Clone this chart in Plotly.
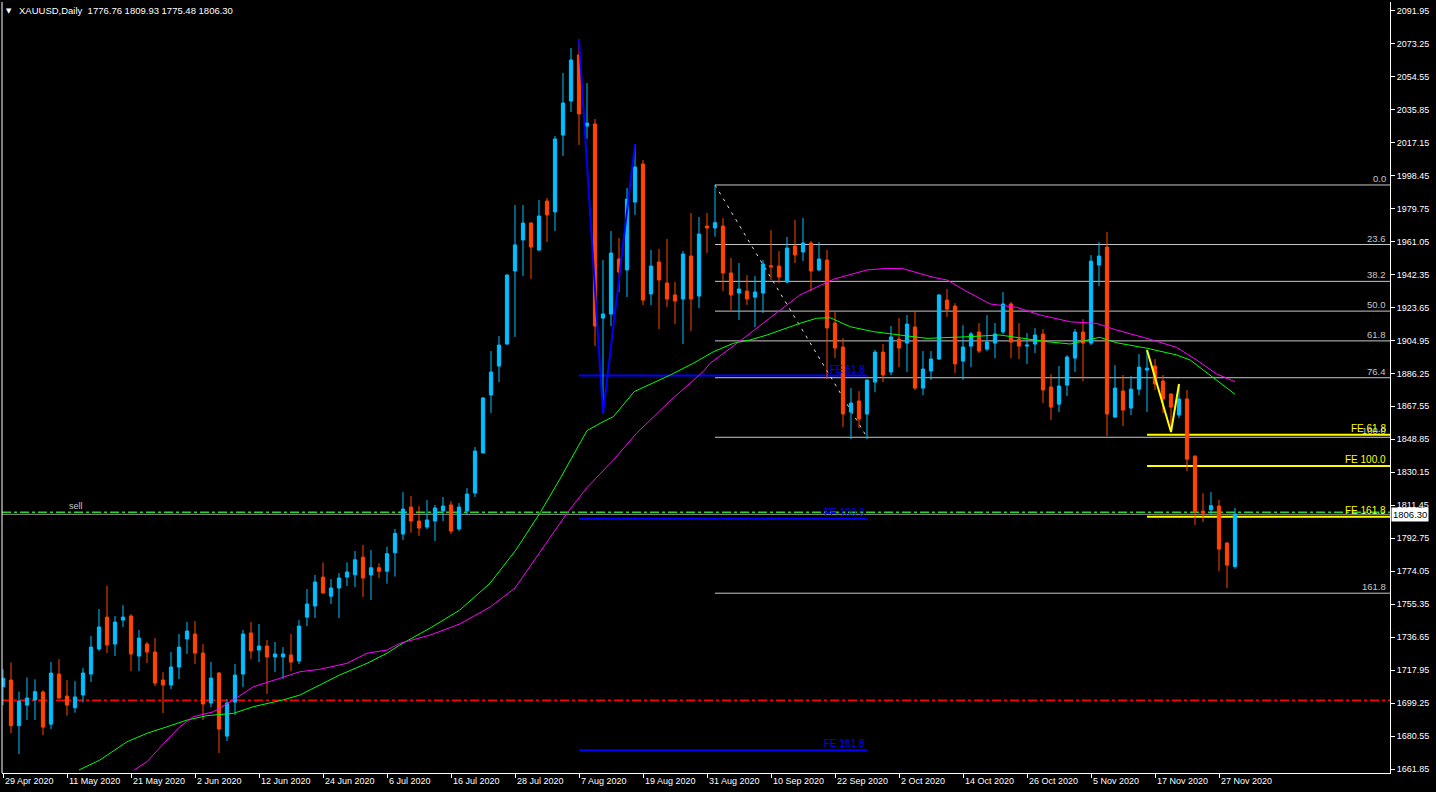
import plotly.graph_objects as go

# ---------------- data ----------------
title_text = "XAUUSD,Daily  1776.76 1809.93 1775.48 1806.30"

opens = [1708.5, 1712.3, 1686.4, 1698.1, 1701.0, 1705.5, 1687.3, 1715.7, 1703.2, 1696.6,
         1703.8, 1715.7, 1729.9, 1748.0, 1732.7, 1746.3, 1748.6, 1725.9, 1732.7, 1728.2,
         1712.3, 1709.5, 1719.7, 1735.6, 1738.4, 1727.6, 1699.3, 1716.3, 1680.5, 1699.8,
         1715.7, 1739.0, 1729.3, 1731.6, 1725.4, 1725.4, 1726.5, 1723.1, 1748.0, 1754.3,
         1770.7, 1759.9, 1764.5, 1770.7, 1772.0, 1782.0, 1771.9, 1776.0, 1774.0, 1784.5,
         1795.1, 1810.4, 1802.5, 1799.1, 1802.5, 1808.2, 1811.6, 1798.0, 1808.2, 1818.4,
         1841.1, 1874.0, 1890.4, 1902.9, 1944.3, 1961.9, 1971.5, 1956.2, 1984.0, 1977.8,
         2021.4, 2040.7, 2066.8, 2026.5, 2027.7, 1917.6, 1919.9, 1951.1, 1944.9, 1983.4,
         2005.0, 1931.3, 1949.4, 1937.5, 1930.7, 1928.4, 1952.8, 1930.1, 1969.8, 1968.7,
         1969.8, 1943.2, 1931.8, 1932.9, 1929.5, 1931.8, 1947.3, 1947.1, 1938.0, 1958.5,
         1955.1, 1960.2, 1944.9, 1950.5, 1914.8, 1901.2, 1864.3, 1870.6, 1863.2, 1881.3,
         1898.3, 1887.0, 1905.7, 1903.4, 1912.5, 1877.9, 1887.6, 1894.4, 1927.8, 1924.4,
         1893.2, 1901.7, 1909.7, 1900.0, 1903.4, 1909.7, 1925.6, 1905.7, 1901.7, 1902.9,
         1908.5, 1878.5, 1868.8, 1879.6, 1894.9, 1909.7, 1903.4, 1947.7, 1957.9, 1861.5,
         1876.2, 1866.6, 1877.3, 1888.1, 1890.4, 1881.9, 1874.5, 1862.6, 1871.7, 1839.3,
         1808.1, 1808.9, 1811.0, 1790.0, 1776.76]
highs = [1718.4, 1722.3, 1705.7, 1713.8, 1712.7, 1706.5, 1722.5, 1724.2, 1712.3, 1711.7,
         1719.1, 1737.3, 1752.6, 1765.8, 1748.6, 1754.8, 1749.7, 1740.7, 1733.9, 1736.1,
         1716.8, 1728.2, 1738.4, 1745.2, 1745.8, 1732.7, 1722.5, 1716.8, 1701.5, 1721.4,
         1740.7, 1745.2, 1744.1, 1735.0, 1733.9, 1731.0, 1738.4, 1746.3, 1763.9, 1771.9,
         1779.0, 1769.6, 1773.0, 1779.0, 1785.5, 1789.0, 1786.0, 1778.5, 1787.9, 1798.0,
         1818.9, 1816.7, 1811.0, 1814.4, 1811.6, 1816.1, 1813.8, 1812.7, 1821.2, 1844.5,
         1872.8, 1898.9, 1907.4, 1942.5, 1981.7, 1981.7, 1972.1, 1984.6, 1985.7, 2020.9,
         2056.6, 2070.8, 2075.7, 2050.9, 2030.5, 1950.5, 1967.0, 1963.0, 1991.4, 2016.3,
         2007.3, 1956.2, 1956.8, 1962.5, 1938.1, 1955.6, 1977.2, 1974.9, 1977.2, 1993.1,
         1974.3, 1951.7, 1948.8, 1942.0, 1941.4, 1950.5, 1967.5, 1955.6, 1963.6, 1973.2,
         1974.3, 1961.3, 1960.7, 1956.2, 1921.0, 1906.3, 1877.9, 1876.2, 1882.5, 1899.5,
         1902.9, 1913.1, 1917.6, 1919.3, 1921.6, 1898.9, 1898.9, 1931.2, 1934.1, 1926.1,
         1913.6, 1909.7, 1914.8, 1919.3, 1914.8, 1932.4, 1926.7, 1914.8, 1909.1, 1911.9,
         1911.4, 1885.8, 1890.4, 1896.6, 1911.4, 1917.0, 1953.3, 1960.7, 1966.4, 1890.9,
         1885.3, 1884.7, 1897.2, 1899.5, 1894.4, 1885.3, 1875.1, 1880.2, 1876.8, 1839.8,
         1818.3, 1818.9, 1814.4, 1790.6, 1809.93]
lows = [1698.1, 1682.1, 1670.3, 1689.6, 1689.6, 1681.1, 1684.5, 1701.7, 1692.1, 1693.8,
        1699.6, 1711.2, 1728.8, 1727.6, 1725.9, 1742.4, 1717.4, 1717.4, 1721.9, 1708.9,
        1693.6, 1707.2, 1712.9, 1727.1, 1721.4, 1689.6, 1697.0, 1670.9, 1677.7, 1692.5,
        1708.3, 1724.2, 1722.5, 1704.4, 1716.8, 1712.9, 1717.4, 1721.4, 1742.9, 1747.5,
        1761.1, 1755.4, 1747.5, 1765.6, 1765.1, 1759.4, 1757.7, 1770.0, 1767.0, 1771.0,
        1791.7, 1795.9, 1794.0, 1797.9, 1791.2, 1802.5, 1795.1, 1796.8, 1805.9, 1816.1,
        1841.1, 1863.8, 1881.3, 1902.5, 1906.9, 1941.5, 1939.8, 1955.6, 1960.8, 1967.0,
        2009.5, 2034.5, 2015.8, 2019.2, 1901.8, 1863.2, 1913.1, 1932.4, 1929.6, 1976.1,
        1925.0, 1925.0, 1911.4, 1923.9, 1914.2, 1902.9, 1910.3, 1923.3, 1954.5, 1963.8,
        1932.9, 1922.2, 1916.5, 1925.0, 1912.5, 1920.5, 1939.2, 1937.5, 1937.5, 1948.8,
        1950.0, 1932.9, 1944.3, 1883.0, 1894.9, 1855.8, 1849.0, 1855.2, 1849.0, 1875.6,
        1881.3, 1885.3, 1889.8, 1887.0, 1876.8, 1874.0, 1882.5, 1893.8, 1918.2, 1886.4,
        1882.5, 1889.8, 1897.8, 1898.9, 1894.9, 1908.5, 1894.9, 1894.4, 1891.5, 1897.8,
        1869.4, 1859.8, 1864.3, 1873.4, 1887.0, 1881.9, 1902.3, 1935.8, 1850.7, 1860.9,
        1856.4, 1862.6, 1873.9, 1864.3, 1876.8, 1863.7, 1853.0, 1860.9, 1830.8, 1800.2,
        1801.9, 1805.9, 1774.1, 1764.5, 1775.48]
closes = [1713.3, 1686.4, 1700.4, 1702.1, 1705.7, 1685.6, 1716.3, 1702.1, 1698.1, 1702.7,
          1716.3, 1731.0, 1742.4, 1732.2, 1745.2, 1748.0, 1727.1, 1736.1, 1728.2, 1710.6,
          1709.5, 1719.7, 1731.0, 1740.1, 1727.6, 1698.7, 1713.4, 1684.5, 1699.3, 1715.1,
          1738.4, 1728.8, 1731.6, 1725.4, 1727.1, 1727.1, 1722.5, 1742.9, 1755.4, 1767.9,
          1761.7, 1764.5, 1770.2, 1773.6, 1780.5, 1770.2, 1776.0, 1774.0, 1784.0, 1795.5,
          1809.3, 1802.5, 1798.5, 1803.1, 1809.9, 1811.0, 1796.8, 1810.4, 1817.8, 1842.2,
          1872.3, 1887.0, 1902.3, 1942.0, 1959.1, 1971.5, 1957.9, 1975.5, 1976.1, 2019.2,
          2039.6, 2064.0, 2033.4, 2028.2, 1913.1, 1919.9, 1954.5, 1943.7, 1985.1, 2003.3,
          1927.8, 1947.1, 1939.2, 1928.4, 1927.3, 1953.9, 1928.4, 1965.3, 1968.7, 1971.7,
          1943.2, 1930.7, 1934.1, 1928.4, 1932.4, 1948.3, 1946.7, 1940.9, 1957.3, 1953.4,
          1960.2, 1944.3, 1951.1, 1912.0, 1900.6, 1863.2, 1869.4, 1860.3, 1882.5, 1898.3,
          1885.3, 1906.9, 1900.6, 1914.2, 1877.9, 1888.7, 1894.4, 1930.7, 1922.7, 1891.6,
          1901.2, 1908.6, 1898.9, 1904.0, 1908.6, 1925.6, 1904.0, 1901.7, 1902.3, 1908.0,
          1876.8, 1867.1, 1879.1, 1895.5, 1909.7, 1903.4, 1949.9, 1952.8, 1863.2, 1877.9,
          1865.4, 1877.3, 1889.8, 1889.2, 1880.2, 1871.7, 1867.1, 1871.7, 1837.6, 1807.6,
          1807.0, 1811.2, 1786.6, 1777.5, 1806.30]

# date labels of the time axis, one every 8 bars
date_labels = ["29 Apr 2020", "11 May 2020", "21 May 2020", "2 Jun 2020", "12 Jun 2020",
               "24 Jun 2020", "6 Jul 2020", "16 Jul 2020", "28 Jul 2020", "7 Aug 2020",
               "19 Aug 2020", "31 Aug 2020", "10 Sep 2020", "22 Sep 2020", "2 Oct 2020",
               "14 Oct 2020", "26 Oct 2020", "5 Nov 2020", "17 Nov 2020", "27 Nov 2020"]
date_label_bars = [0, 8, 16, 24, 32, 40, 48, 56, 64, 72, 80, 88, 96, 104, 112, 120, 128, 136, 144, 152]

price_ticks = [2091.95, 2073.25, 2054.55, 2035.85, 2017.15, 1998.45, 1979.75, 1961.05,
               1942.35, 1923.65, 1904.95, 1886.25, 1867.55, 1848.85, 1830.15, 1811.45,
               1792.75, 1774.05, 1755.35, 1736.65, 1717.95, 1699.25, 1680.55, 1661.85]

# moving averages (read at sample bars)
ma_fast_bar = [9.5, 12.1, 15.5, 18.0, 20.5, 23.0, 25.5, 28.8, 31.3, 35.0, 37.1, 39.6, 42.1,
               45.5, 48.0, 49.6, 53.4, 57.1, 60.9, 64.1, 67.1, 69.6, 73.0, 75.0, 76.3, 78.9,
               82.1, 83.4, 86.3, 88.8, 91.3, 93.4, 95.5, 99.6, 101.7, 103.4, 105.9, 108.8,
               112.1, 115.5, 120.5, 124.6, 130.5, 133.4, 137.1, 139.2, 143.0, 146.7, 148.4,
               150.5, 152.5, 154.0]
ma_fast_val = [1661.3, 1666.9, 1677.3, 1682.1, 1685.8, 1689.6, 1692.1, 1693.4, 1697.2, 1701.0,
               1703.8, 1709.5, 1715.2, 1721.8, 1727.5, 1732.2, 1741.8, 1752.0, 1767.3, 1786.0,
               1806.9, 1826.2, 1853.8, 1858.8, 1861.7, 1875.9, 1882.5, 1885.3, 1892.0, 1898.5,
               1903.3, 1905.2, 1908.0, 1914.6, 1917.5, 1917.8, 1912.7, 1909.9, 1908.0, 1906.1,
               1907.0, 1908.0, 1904.2, 1902.9, 1906.7, 1903.6, 1900.5, 1896.7, 1893.8, 1886.3,
               1879.6, 1874.4]
ma_slow_bar = [16.4, 18.0, 20.5, 22.1, 23.8, 26.3, 28.8, 31.3, 34.6, 37.1, 39.6, 43.0, 45.5,
               48.0, 49.6, 53.4, 57.1, 60.9, 64.0, 67.3, 70.5, 73.0, 76.3, 79.2, 83.4, 87.5,
               88.4, 92.3, 95.5, 99.6, 103.8, 108.0, 110.5, 112.5, 116.3, 118.0, 120.5, 123.4,
               126.7, 129.6, 133.4, 136.7, 139.2, 143.0, 146.7, 149.2, 151.7, 154.0]
ma_slow_val = [1661.3, 1666.0, 1678.3, 1685.8, 1691.5, 1694.3, 1701.0, 1708.5, 1713.3, 1717.0,
               1718.4, 1721.8, 1727.5, 1729.3, 1733.1, 1737.8, 1744.1, 1753.7, 1764.5, 1786.0,
               1806.9, 1821.5, 1837.1, 1852.3, 1870.7, 1887.2, 1892.0, 1905.2, 1916.5, 1930.7,
               1939.6, 1944.9, 1945.8, 1945.6, 1940.7, 1939.2, 1932.6, 1925.6, 1923.7, 1919.4,
               1915.5, 1914.6, 1910.8, 1906.1, 1901.0, 1893.8, 1885.9, 1881.5]

# drawing objects
fib_ratios = [0.0, 23.6, 38.2, 50.0, 61.8, 76.4, 100.0, 161.8]
fib_bars = [89, 108]
fib_prices = [1993.1, 1850.0]
fe_ratios = [61.8, 100.0, 161.8]
fe_blue_bars = [72, 75, 79]
fe_blue_end_bar = 108
fe_yellow_bars = [143, 146, 147]
sell_level = 1807.5
red_level = 1700.8
bid_price = 1806.30
sell_text = "sell"

# ---------------- figure ----------------
n = len(closes)
bars = list(range(n))
X_MIN, X_MAX = -0.125, 173.375
Y_MIN, Y_MAX = 1659.58, 2096.88
BULL, BEAR = "#00BFFF", "#FF4500"
FONT = "Liberation Sans"

fig = go.Figure()

fig.add_trace(go.Scatter(x=ma_fast_bar, y=ma_fast_val, mode="lines",
                         line=dict(color="#00FF00", width=1), hoverinfo="skip"))
fig.add_trace(go.Scatter(x=ma_slow_bar, y=ma_slow_val, mode="lines",
                         line=dict(color="#FF00FF", width=1), hoverinfo="skip"))

fig.add_trace(go.Candlestick(
    x=bars, open=opens, high=highs, low=lows, close=closes,
    increasing=dict(line=dict(color=BULL, width=1), fillcolor=BULL),
    decreasing=dict(line=dict(color=BEAR, width=1), fillcolor=BEAR),
    whiskerwidth=0, hoverinfo="skip"))

shapes = []
annotations = []

# horizontal price lines
shapes.append(dict(type="line", xref="x", yref="y", x0=X_MIN, x1=X_MAX, y0=red_level, y1=red_level,
                   line=dict(color="#FF0000", width=1.5, dash="9px,3px,3px,3px"), layer="below"))
shapes.append(dict(type="line", xref="x", yref="y", x0=X_MIN, x1=X_MAX, y0=bid_price, y1=bid_price,
                   line=dict(color="#9a9a9a", width=1), layer="below"))
shapes.append(dict(type="line", xref="x", yref="y", x0=X_MIN, x1=X_MAX, y0=sell_level, y1=sell_level,
                   line=dict(color="#32CD32", width=1.5, dash="9px,3px,3px,3px"), layer="below"))
annotations.append(dict(x=8.0, y=sell_level, xref="x", yref="y", text=sell_text, showarrow=False,
                        xanchor="left", yanchor="bottom", yshift=-1,
                        font=dict(family=FONT, size=9, color="#c8c8c8")))

# fibonacci retracement
fib_hi, fib_lo = fib_prices
for r in fib_ratios:
    lvl = fib_hi - (fib_hi - fib_lo) * r / 100.0
    shapes.append(dict(type="line", xref="x", yref="y", x0=fib_bars[0], x1=X_MAX, y0=lvl, y1=lvl,
                       line=dict(color="#c8c8c8", width=1), layer="below"))
    annotations.append(dict(x=X_MAX - 0.25, y=lvl, xref="x", yref="y", text=f"{r:.1f}", showarrow=False,
                            xanchor="right", yanchor="bottom", yshift=-1,
                            font=dict(family=FONT, size=9.5, color="#c8c8c8")))
shapes.append(dict(type="line", xref="x", yref="y", x0=fib_bars[0], x1=fib_bars[1], y0=fib_hi, y1=fib_lo,
                   line=dict(color="#dddddd", width=1, dash="3px,5px"), layer="below"))

# blue fibonacci expansion
bA, bB, bC = fe_blue_bars
blue_pts_y = [highs[bA], lows[bB], highs[bC]]
blue_range = blue_pts_y[0] - blue_pts_y[1]
for r in fe_ratios:
    lvl = blue_pts_y[2] - blue_range * r / 100.0
    shapes.append(dict(type="line", xref="x", yref="y", x0=bA, x1=fe_blue_end_bar, y0=lvl, y1=lvl,
                       line=dict(color="#0000FF", width=2), layer="below"))
    annotations.append(dict(x=fe_blue_end_bar, y=lvl, xref="x", yref="y", text=f"FE {r:.1f}", showarrow=False,
                            xanchor="right", yanchor="bottom", yshift=-1,
                            font=dict(family=FONT, size=10, color="#0000FF")))

# yellow fibonacci expansion
yA, yB, yC = fe_yellow_bars
yel_pts_y = [highs[yA], lows[yB], highs[yC]]
yel_range = yel_pts_y[0] - yel_pts_y[1]
for r in fe_ratios:
    lvl = yel_pts_y[2] - yel_range * r / 100.0
    shapes.append(dict(type="line", xref="x", yref="y", x0=yA, x1=X_MAX, y0=lvl, y1=lvl,
                       line=dict(color="#FFFF00", width=2), layer="below"))
    annotations.append(dict(x=X_MAX - 0.25, y=lvl, xref="x", yref="y", text=f"FE {r:.1f}", showarrow=False,
                            xanchor="right", yanchor="bottom", yshift=-1,
                            font=dict(family=FONT, size=10, color="#FFFF00")))

fig.add_trace(go.Scatter(x=fe_blue_bars, y=blue_pts_y, mode="lines",
                         line=dict(color="#0000FF", width=2), hoverinfo="skip"))
fig.add_trace(go.Scatter(x=fe_yellow_bars, y=yel_pts_y, mode="lines",
                         line=dict(color="#FFFF00", width=2), hoverinfo="skip"))

# time axis labels (left aligned at the tick, MT4 style)
for b, t in zip(date_label_bars, date_labels):
    annotations.append(dict(x=b, y=0, xref="x", yref="paper", text=t, showarrow=False,
                            xanchor="left", yanchor="top", xshift=0, yshift=-1,
                            font=dict(family=FONT, size=9, color="white")))

# title
annotations.append(dict(x=0, y=1, xref="paper", yref="paper", text="▼", showarrow=False,
                        xanchor="left", yanchor="top", xshift=2, yshift=-3,
                        font=dict(family="DejaVu Sans", size=7, color="white")))
annotations.append(dict(x=0, y=1, xref="paper", yref="paper", text=title_text.replace("  ", "&nbsp;&nbsp;"),
                        showarrow=False, xanchor="left", yanchor="top", xshift=15, yshift=-1,
                        font=dict(family=FONT, size=9.5, color="white")))

# current price box
annotations.append(dict(x=1, y=bid_price, xref="paper", yref="y", text=f"{bid_price:.2f}", showarrow=False,
                        xanchor="left", yanchor="middle", xshift=1, bgcolor="white", borderpad=1,
                        font=dict(family=FONT, size=9.5, color="black")))

# left frame line
shapes.append(dict(type="line", xref="paper", yref="paper", x0=0, x1=0, y0=0, y1=1,
                   line=dict(color="white", width=1)))

fig.update_layout(
    width=1436, height=792,
    margin=dict(l=2, r=46, t=2, b=19),
    paper_bgcolor="black", plot_bgcolor="black",
    showlegend=False, boxgap=0.42,
    shapes=shapes, annotations=annotations,
    font=dict(family=FONT, color="white"),
)
fig.update_xaxes(range=[X_MIN, X_MAX], showgrid=False, zeroline=False, rangeslider=dict(visible=False),
                 tickvals=date_label_bars, ticktext=[""] * len(date_label_bars), ticks="outside",
                 ticklen=4, tickcolor="white", showline=True, linecolor="white", linewidth=1)
fig.update_yaxes(range=[Y_MIN, Y_MAX], side="right", showgrid=False, zeroline=False,
                 tickvals=price_ticks, ticktext=[f"{v:.2f}" for v in price_ticks], ticks="outside",
                 ticklen=4, tickcolor="white", showline=True, linecolor="white", linewidth=1,
                 tickfont=dict(family=FONT, size=9, color="white"))

fig.write_html("out.html", config={"displayModeBar": False},
               post_script="document.body.style.margin='0';document.body.style.background='black';")
